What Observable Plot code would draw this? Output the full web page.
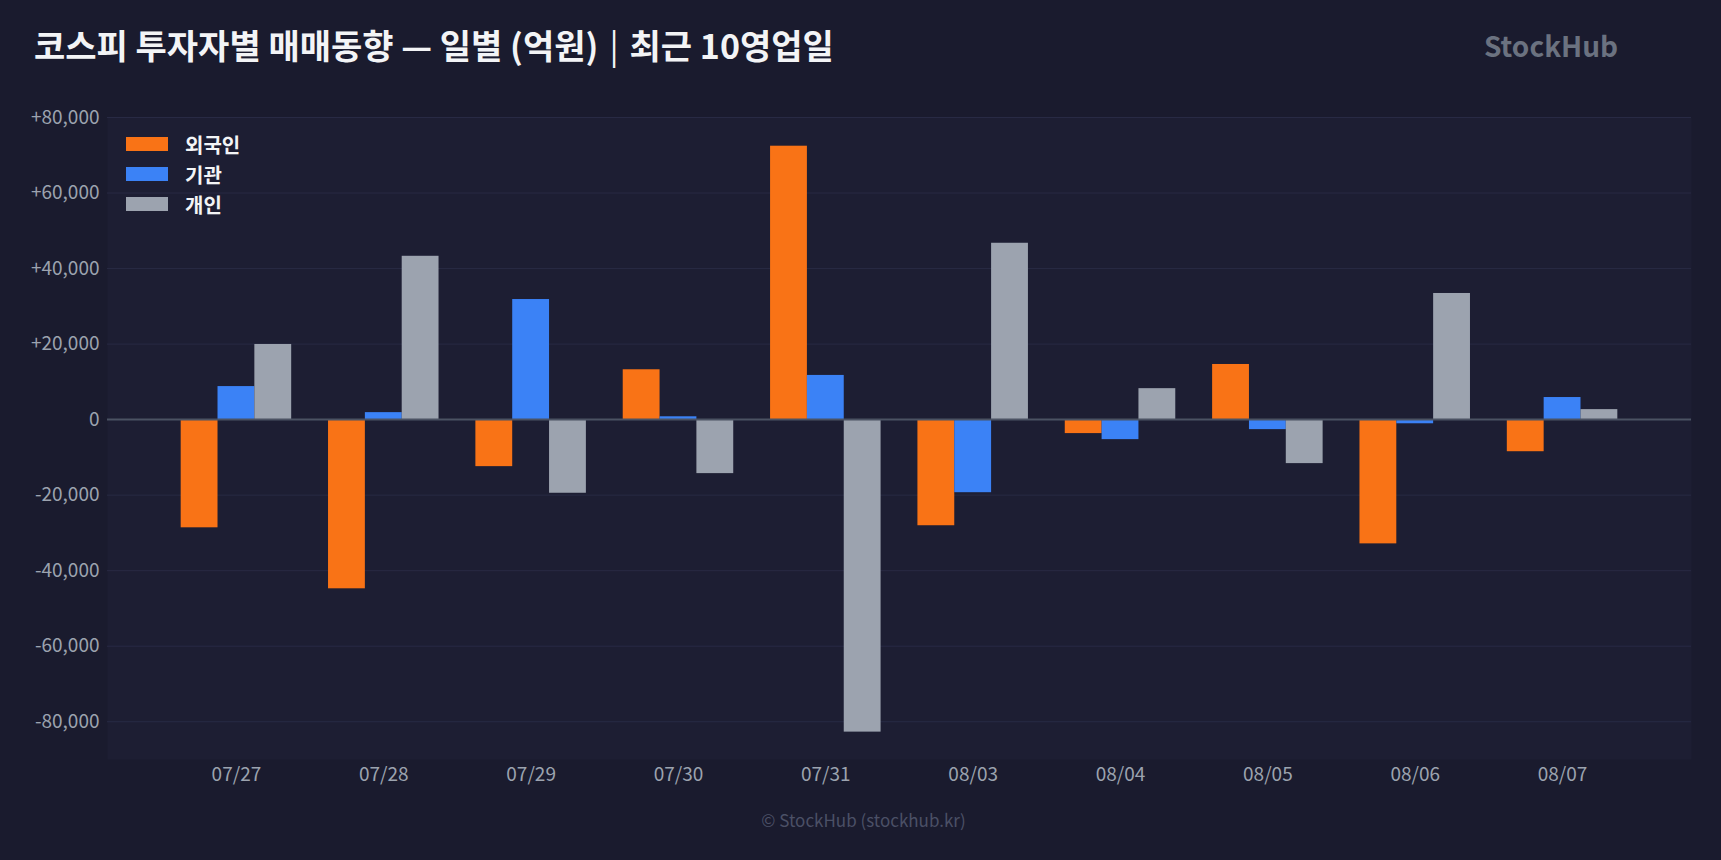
<!DOCTYPE html>
<html>
<head>
<meta charset="utf-8">
<script src="https://cdn.jsdelivr.net/npm/d3@7"></script>
<script src="https://cdn.jsdelivr.net/npm/@observablehq/plot@0.6"></script>
<style>
  html, body { margin: 0; padding: 0; background: #1a1b2e; }
  #wrap { position: relative; width: 1721px; height: 860px; background: #1a1b2e; overflow: hidden;
          font-family: "Noto Sans CJK KR", "Noto Sans", sans-serif; }
  #title { position: absolute; left: 34px; top: 20px; font-size: 34px; font-weight: 700; color: #f3f4f6;
           white-space: nowrap; letter-spacing: 0; }
  #title .bar { margin: 0 11px; font-weight: 400; }
  #brand { position: absolute; left: 1484px; top: 25px; font-size: 28px; font-weight: 700; color: #6b7280; }
  #chart { position: absolute; left: 0; top: 90px; }
  #legend { position: absolute; left: 126px; top: 129px; }
  .li { display: flex; align-items: center; height: 30px; }
  .sw { width: 42px; height: 14px; margin-right: 17px; }
  .lt { font-size: 20px; font-weight: 700; color: #f3f4f6; }
  #caption { position: absolute; left: 0; width: 1727px; top: 807px; text-align: center; font-size: 17px; color: #4b5066; }
</style>
</head>
<body>
<div id="wrap">
  <div id="title">코스피 투자자별 매매동향 — 일별 (억원)<span class="bar">|</span>최근 10영업일</div>
  <div id="brand">StockHub</div>
  <div id="chart"></div>
  <div id="legend"></div>
  <div id="caption">© StockHub (stockhub.kr)</div>
</div>
<script>
const dates = ["07/27","07/28","07/29","07/30","07/31","08/03","08/04","08/05","08/06","08/07"];
const series = ["외국인","기관","개인"];
const foreign = [-28650, -44800, -12450, 13200, 72400, -28100, -3700, 14600, -32900, -8500];
const institution = [8750, 1850, 31800, 750, 11700, -19350, -5300, -2650, -1100, 5850];
const individual = [19900, 43250, -19500, -14300, -82750, 46700, 8200, -11650, 33400, 2650];
const colors = ["#f97316", "#3b82f6", "#9ca3af"];
const yTicks = [-80000, -60000, -40000, -20000, 0, 20000, 40000, 60000, 80000];

const seriesValues = [foreign, institution, individual];
const key = (d, s) => d + "|" + s;
const data = dates.flatMap((d, i) => series.map((s, k) => ({date: d, type: s, slot: key(d, s), value: seriesValues[k][i]})));

// band domain: one bar-wide slot per series, one empty slot between days, two empty slots at each end
const xDomain = ["|L1", "|L2",
  ...dates.flatMap((d, i) => [...series.map(s => key(d, s)), ...(i < dates.length - 1 ? [key(d, "gap")] : [])]),
  "|R1", "|R2"];
const xTicks = dates.map(d => key(d, series[1]));

const fmt = v => (v > 0 ? "+" : "") + v.toLocaleString("en-US");

const chart = Plot.plot({
  width: 1721,
  height: 720,
  marginTop: 27,
  marginBottom: 51,
  marginLeft: 107,
  marginRight: 30,
  style: {background: "transparent", fontFamily: "'Noto Sans CJK KR', 'Noto Sans', sans-serif", fontSize: "19px", color: "#9ca3af"},
  x: {type: "band", domain: xDomain, padding: 0, axis: null},
  y: {domain: [-90000, 80000], axis: null},
  color: {domain: series, range: colors},
  marks: [
    Plot.frame({fill: "#1d1e33", stroke: null}),
    Plot.gridY(yTicks, {stroke: "#282a44", strokeOpacity: 1, strokeWidth: 1}),
    Plot.axisY(yTicks, {tickSize: 0, tickPadding: 8, tickFormat: fmt, label: null}),
    Plot.axisX(xTicks, {tickSize: 0, tickPadding: 8, tickFormat: v => v.split("|")[0], label: null}),
    Plot.barY(data, {x: "slot", y: "value", fill: "type"}),
    Plot.ruleY([0], {stroke: "#4b5263", strokeWidth: 2})
  ]
});
document.getElementById("chart").appendChild(chart);

const legend = document.getElementById("legend");
series.forEach((s, k) => {
  const row = document.createElement("div");
  row.className = "li";
  row.innerHTML = `<div class="sw" style="background:${colors[k]}"></div><div class="lt">${s}</div>`;
  legend.appendChild(row);
});
</script>
</body>
</html>
